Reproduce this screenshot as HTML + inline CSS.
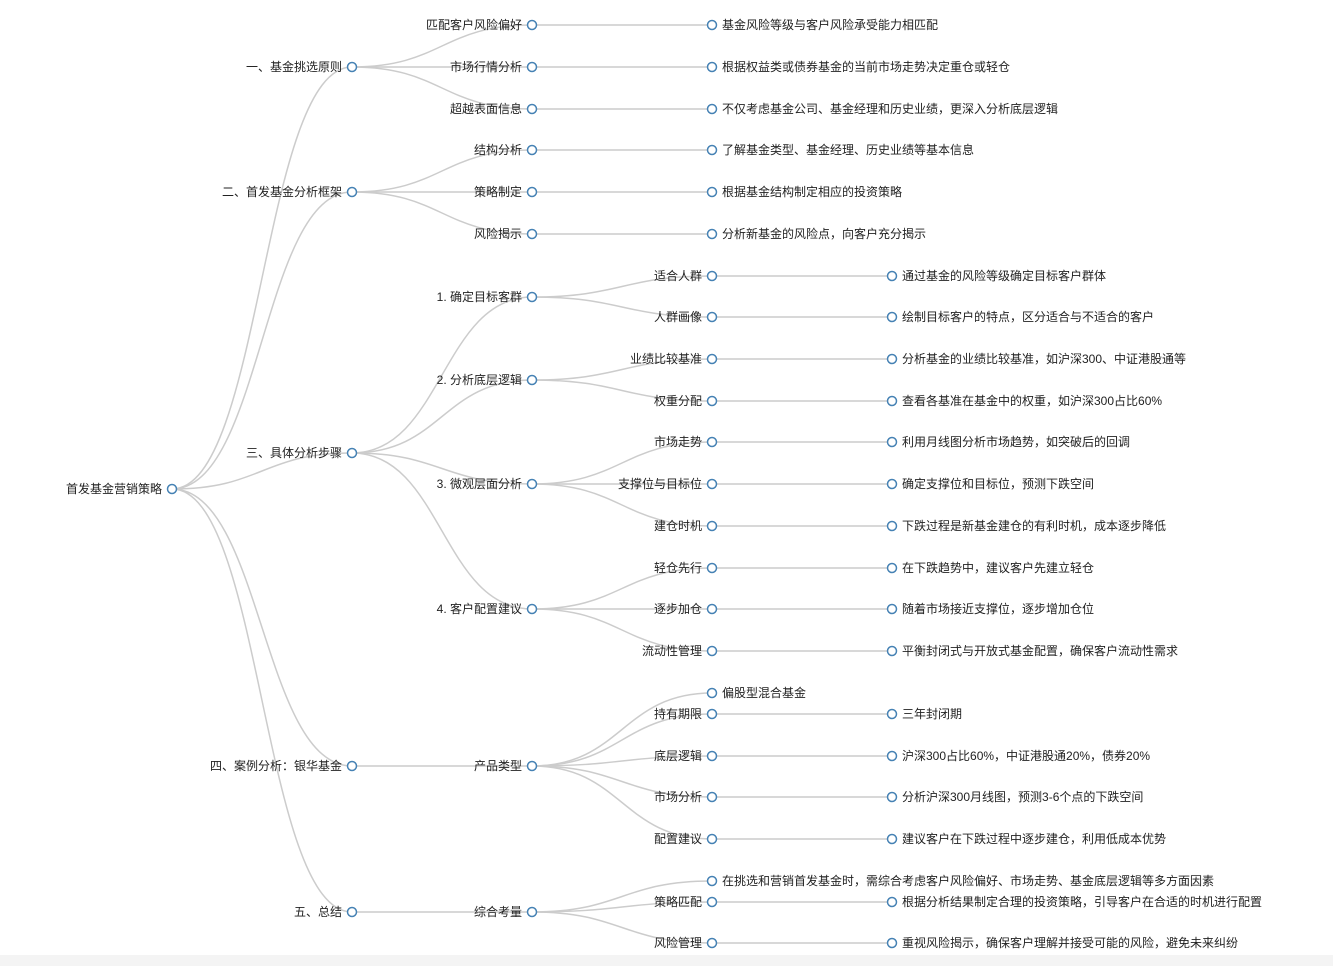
<!DOCTYPE html>
<html><head><meta charset="utf-8"><style>
html,body{margin:0;padding:0;background:#fff;width:1333px;height:966px;overflow:hidden}
svg{display:block}
text{font-family:"Liberation Sans","Noto Sans CJK SC",sans-serif;font-size:12px;fill:#222;dominant-baseline:central}
.e{text-anchor:end}
path{fill:none;stroke:#ccc;stroke-width:1.5}
circle{fill:#fff;stroke:#4682b4;stroke-width:1.5}
</style></head><body>
<svg width="1333" height="966" viewBox="0 0 1333 966">
<rect x="0" y="955" width="1333" height="11" fill="#f4f4f4"/>
<g transform="translate(0,1)">
<!-- root links -->
<path d="M172,488C262,488 262,66 352,66"/>
<path d="M172,488C262,488 262,191 352,191"/>
<path d="M172,488C262,488 262,452 352,452"/>
<path d="M172,488C262,488 262,765 352,765"/>
<path d="M172,488C262,488 262,911 352,911"/>
<!-- L1->L2 -->
<path d="M352,66C442,66 442,24 532,24"/>
<path d="M352,66C442,66 442,66 532,66"/>
<path d="M352,66C442,66 442,108 532,108"/>
<path d="M352,191C442,191 442,149 532,149"/>
<path d="M352,191C442,191 442,191 532,191"/>
<path d="M352,191C442,191 442,233 532,233"/>
<path d="M352,452C442,452 442,296 532,296"/>
<path d="M352,452C442,452 442,379 532,379"/>
<path d="M352,452C442,452 442,483 532,483"/>
<path d="M352,452C442,452 442,608 532,608"/>
<path d="M352,765C442,765 442,765 532,765"/>
<path d="M352,911C442,911 442,911 532,911"/>
<!-- L2->L3 -->
<path d="M532,24L712,24"/><path d="M532,66L712,66"/><path d="M532,108L712,108"/>
<path d="M532,149L712,149"/><path d="M532,191L712,191"/><path d="M532,233L712,233"/>
<path d="M532,296C622,296 622,275 712,275"/>
<path d="M532,296C622,296 622,316 712,316"/>
<path d="M532,379C622,379 622,358 712,358"/>
<path d="M532,379C622,379 622,400 712,400"/>
<path d="M532,483C622,483 622,441 712,441"/>
<path d="M532,483C622,483 622,483 712,483"/>
<path d="M532,483C622,483 622,525 712,525"/>
<path d="M532,608C622,608 622,567 712,567"/>
<path d="M532,608C622,608 622,608 712,608"/>
<path d="M532,608C622,608 622,650 712,650"/>
<path d="M532,765C622,765 622,692 712,692"/>
<path d="M532,765C622,765 622,713 712,713"/>
<path d="M532,765C622,765 622,755 712,755"/>
<path d="M532,765C622,765 622,796 712,796"/>
<path d="M532,765C622,765 622,838 712,838"/>
<path d="M532,911C622,911 622,880 712,880"/>
<path d="M532,911C622,911 622,901 712,901"/>
<path d="M532,911C622,911 622,942 712,942"/>
<!-- L3->L4 -->
<path d="M712,275L892,275"/><path d="M712,316L892,316"/><path d="M712,358L892,358"/><path d="M712,400L892,400"/>
<path d="M712,441L892,441"/><path d="M712,483L892,483"/><path d="M712,525L892,525"/>
<path d="M712,567L892,567"/><path d="M712,608L892,608"/><path d="M712,650L892,650"/>
<path d="M712,713L892,713"/><path d="M712,755L892,755"/><path d="M712,796L892,796"/><path d="M712,838L892,838"/>
<path d="M712,901L892,901"/><path d="M712,942L892,942"/>

<!-- circles -->
<g>
<circle cx="172" cy="488" r="4.5"/>
<circle cx="352" cy="66" r="4.5"/><circle cx="352" cy="191" r="4.5"/><circle cx="352" cy="452" r="4.5"/><circle cx="352" cy="765" r="4.5"/><circle cx="352" cy="911" r="4.5"/>
<circle cx="532" cy="24" r="4.5"/><circle cx="532" cy="66" r="4.5"/><circle cx="532" cy="108" r="4.5"/>
<circle cx="532" cy="149" r="4.5"/><circle cx="532" cy="191" r="4.5"/><circle cx="532" cy="233" r="4.5"/>
<circle cx="532" cy="296" r="4.5"/><circle cx="532" cy="379" r="4.5"/><circle cx="532" cy="483" r="4.5"/><circle cx="532" cy="608" r="4.5"/>
<circle cx="532" cy="765" r="4.5"/><circle cx="532" cy="911" r="4.5"/>
<circle cx="712" cy="24" r="4.5"/><circle cx="712" cy="66" r="4.5"/><circle cx="712" cy="108" r="4.5"/>
<circle cx="712" cy="149" r="4.5"/><circle cx="712" cy="191" r="4.5"/><circle cx="712" cy="233" r="4.5"/>
<circle cx="712" cy="275" r="4.5"/><circle cx="712" cy="316" r="4.5"/><circle cx="712" cy="358" r="4.5"/><circle cx="712" cy="400" r="4.5"/>
<circle cx="712" cy="441" r="4.5"/><circle cx="712" cy="483" r="4.5"/><circle cx="712" cy="525" r="4.5"/>
<circle cx="712" cy="567" r="4.5"/><circle cx="712" cy="608" r="4.5"/><circle cx="712" cy="650" r="4.5"/>
<circle cx="712" cy="692" r="4.5"/><circle cx="712" cy="713" r="4.5"/><circle cx="712" cy="755" r="4.5"/><circle cx="712" cy="796" r="4.5"/><circle cx="712" cy="838" r="4.5"/>
<circle cx="712" cy="880" r="4.5"/><circle cx="712" cy="901" r="4.5"/><circle cx="712" cy="942" r="4.5"/>
<circle cx="892" cy="275" r="4.5"/><circle cx="892" cy="316" r="4.5"/><circle cx="892" cy="358" r="4.5"/><circle cx="892" cy="400" r="4.5"/>
<circle cx="892" cy="441" r="4.5"/><circle cx="892" cy="483" r="4.5"/><circle cx="892" cy="525" r="4.5"/>
<circle cx="892" cy="567" r="4.5"/><circle cx="892" cy="608" r="4.5"/><circle cx="892" cy="650" r="4.5"/>
<circle cx="892" cy="713" r="4.5"/><circle cx="892" cy="755" r="4.5"/><circle cx="892" cy="796" r="4.5"/><circle cx="892" cy="838" r="4.5"/>
<circle cx="892" cy="901" r="4.5"/><circle cx="892" cy="942" r="4.5"/>
</g>

<!-- labels -->
<text class="e" x="162" y="488">首发基金营销策略</text>
<text class="e" x="342" y="66">一、基金挑选原则</text>
<text class="e" x="342" y="191">二、首发基金分析框架</text>
<text class="e" x="342" y="452">三、具体分析步骤</text>
<text class="e" x="342" y="765">四、案例分析：银华基金</text>
<text class="e" x="342" y="911">五、总结</text>

<text class="e" x="522" y="24">匹配客户风险偏好</text>
<text class="e" x="522" y="66">市场行情分析</text>
<text class="e" x="522" y="108">超越表面信息</text>
<text class="e" x="522" y="149">结构分析</text>
<text class="e" x="522" y="191">策略制定</text>
<text class="e" x="522" y="233">风险揭示</text>
<text class="e" x="522" y="296">1. 确定目标客群</text>
<text class="e" x="522" y="379">2. 分析底层逻辑</text>
<text class="e" x="522" y="483">3. 微观层面分析</text>
<text class="e" x="522" y="608">4. 客户配置建议</text>
<text class="e" x="522" y="765">产品类型</text>
<text class="e" x="522" y="911">综合考量</text>

<text x="722" y="24">基金风险等级与客户风险承受能力相匹配</text>
<text x="722" y="66">根据权益类或债券基金的当前市场走势决定重仓或轻仓</text>
<text x="722" y="108">不仅考虑基金公司、基金经理和历史业绩，更深入分析底层逻辑</text>
<text x="722" y="149">了解基金类型、基金经理、历史业绩等基本信息</text>
<text x="722" y="191">根据基金结构制定相应的投资策略</text>
<text x="722" y="233">分析新基金的风险点，向客户充分揭示</text>

<text class="e" x="702" y="275">适合人群</text>
<text class="e" x="702" y="316">人群画像</text>
<text class="e" x="702" y="358">业绩比较基准</text>
<text class="e" x="702" y="400">权重分配</text>
<text class="e" x="702" y="441">市场走势</text>
<text class="e" x="702" y="483">支撑位与目标位</text>
<text class="e" x="702" y="525">建仓时机</text>
<text class="e" x="702" y="567">轻仓先行</text>
<text class="e" x="702" y="608">逐步加仓</text>
<text class="e" x="702" y="650">流动性管理</text>
<text x="722" y="692">偏股型混合基金</text>
<text class="e" x="702" y="713">持有期限</text>
<text class="e" x="702" y="755">底层逻辑</text>
<text class="e" x="702" y="796">市场分析</text>
<text class="e" x="702" y="838">配置建议</text>
<text x="722" y="880">在挑选和营销首发基金时，需综合考虑客户风险偏好、市场走势、基金底层逻辑等多方面因素</text>
<text class="e" x="702" y="901">策略匹配</text>
<text class="e" x="702" y="942">风险管理</text>

<text x="902" y="275">通过基金的风险等级确定目标客户群体</text>
<text x="902" y="316">绘制目标客户的特点，区分适合与不适合的客户</text>
<text x="902" y="358">分析基金的业绩比较基准，如沪深300、中证港股通等</text>
<text x="902" y="400">查看各基准在基金中的权重，如沪深300占比60%</text>
<text x="902" y="441">利用月线图分析市场趋势，如突破后的回调</text>
<text x="902" y="483">确定支撑位和目标位，预测下跌空间</text>
<text x="902" y="525">下跌过程是新基金建仓的有利时机，成本逐步降低</text>
<text x="902" y="567">在下跌趋势中，建议客户先建立轻仓</text>
<text x="902" y="608">随着市场接近支撑位，逐步增加仓位</text>
<text x="902" y="650">平衡封闭式与开放式基金配置，确保客户流动性需求</text>
<text x="902" y="713">三年封闭期</text>
<text x="902" y="755">沪深300占比60%，中证港股通20%，债券20%</text>
<text x="902" y="796">分析沪深300月线图，预测3-6个点的下跌空间</text>
<text x="902" y="838">建议客户在下跌过程中逐步建仓，利用低成本优势</text>
<text x="902" y="901">根据分析结果制定合理的投资策略，引导客户在合适的时机进行配置</text>
<text x="902" y="942">重视风险揭示，确保客户理解并接受可能的风险，避免未来纠纷</text>
</g>
</svg>
</body></html>
